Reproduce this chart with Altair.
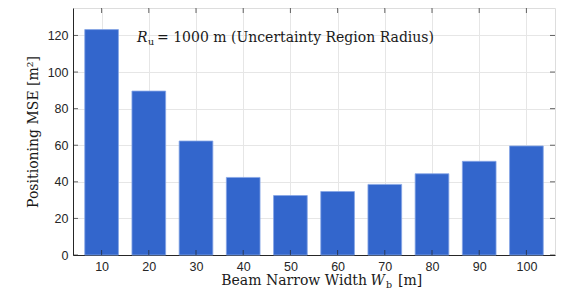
import altair as alt
import pandas as pd

widths = [10, 20, 30, 40, 50, 60, 70, 80, 90, 100]
mse = [123.2, 89.6, 62.3, 42.4, 32.5, 34.7, 38.6, 44.4, 51.2, 59.6]
x_ticks = [10, 20, 30, 40, 50, 60, 70, 80, 90, 100]
y_ticks = [0, 20, 40, 60, 80, 100, 120]

W, H = 482, 247
SERIF = "DejaVu Serif"
SANS = "Liberation Sans"
AX = "#262626"
FS = 14

df = pd.DataFrame({"w": widths, "mse": mse})
dx = pd.DataFrame({"t": x_ticks})
dy = pd.DataFrame({"t": y_ticks})

xscale = alt.Scale(domain=[5, 105], nice=False, zero=False)
yscale = alt.Scale(domain=[0, 135], nice=False)

bars = alt.Chart(df).mark_bar(
    color="#3366CC", stroke="#86a6e6", strokeWidth=0.8, size=33.7
).encode(
    x=alt.X("w:Q", scale=xscale, axis=alt.Axis(
        values=x_ticks, title=None, grid=True, gridColor="#e6e6e6",
        domainColor=AX, ticks=False, labelFont=SANS, labelFontSize=12.5,
        labelColor=AX, labelPadding=5)),
    y=alt.Y("mse:Q", scale=yscale, axis=alt.Axis(
        values=y_ticks, title="Positioning MSE [m²]", grid=True, gridColor="#e6e6e6",
        domainColor=AX, ticks=False, labelFont=SANS, labelFontSize=12.5,
        labelColor=AX, labelPadding=5, titleFont=SERIF, titleFontSize=FS,
        titleFontWeight="normal", titleColor="#1a1a1a", titlePadding=7)),
)

tx_bot = alt.Chart(dx).mark_tick(color=AX, size=5, thickness=1, orient="vertical").encode(
    x=alt.X("t:Q", scale=xscale), y=alt.value(H - 2.5))
tx_top = alt.Chart(dx).mark_tick(color=AX, size=5, thickness=1, orient="vertical").encode(
    x=alt.X("t:Q", scale=xscale), y=alt.value(2.5))
ty_left = alt.Chart(dy).mark_tick(color=AX, size=5, thickness=1, orient="horizontal").encode(
    y=alt.Y("t:Q", scale=yscale), x=alt.value(2.5))
ty_right = alt.Chart(dy).mark_tick(color=AX, size=5, thickness=1, orient="horizontal").encode(
    y=alt.Y("t:Q", scale=yscale), x=alt.value(W - 2.5))

def txt(s, x, y, size=FS, style="normal", align="left"):
    return alt.Chart(pd.DataFrame({"s": [s]})).mark_text(
        font=SERIF, fontSize=size, fontStyle=style, align=align, baseline="alphabetic",
        color="#1a1a1a"
    ).encode(text="s:N", x=alt.value(x), y=alt.value(y))

annot = [
    txt("R", 64, 34, style="italic"),
    txt("u", 75, 37, size=9.5),
    txt("= 1000 m (Uncertainty Region Radius)", 84, 34),
]
xtitle = [
    txt("Beam Narrow Width", 294, H + 30, align="right"),
    txt("W", 297.5, H + 30, style="italic"),
    txt("b", 313, H + 33, size=9.5),
    txt("[m]", 325, H + 30),
]

chart = alt.layer(bars, tx_bot, tx_top, ty_left, ty_right, *annot, *xtitle).properties(
    width=W, height=H,
    autosize=alt.AutoSizeParams(type="none"),
    padding={"left": 65, "top": 0, "right": 2, "bottom": 36},
).configure_view(stroke="#555555", strokeWidth=1).configure(background="white")

chart.save("out.html", embed_options={"renderer": "svg", "actions": False})
